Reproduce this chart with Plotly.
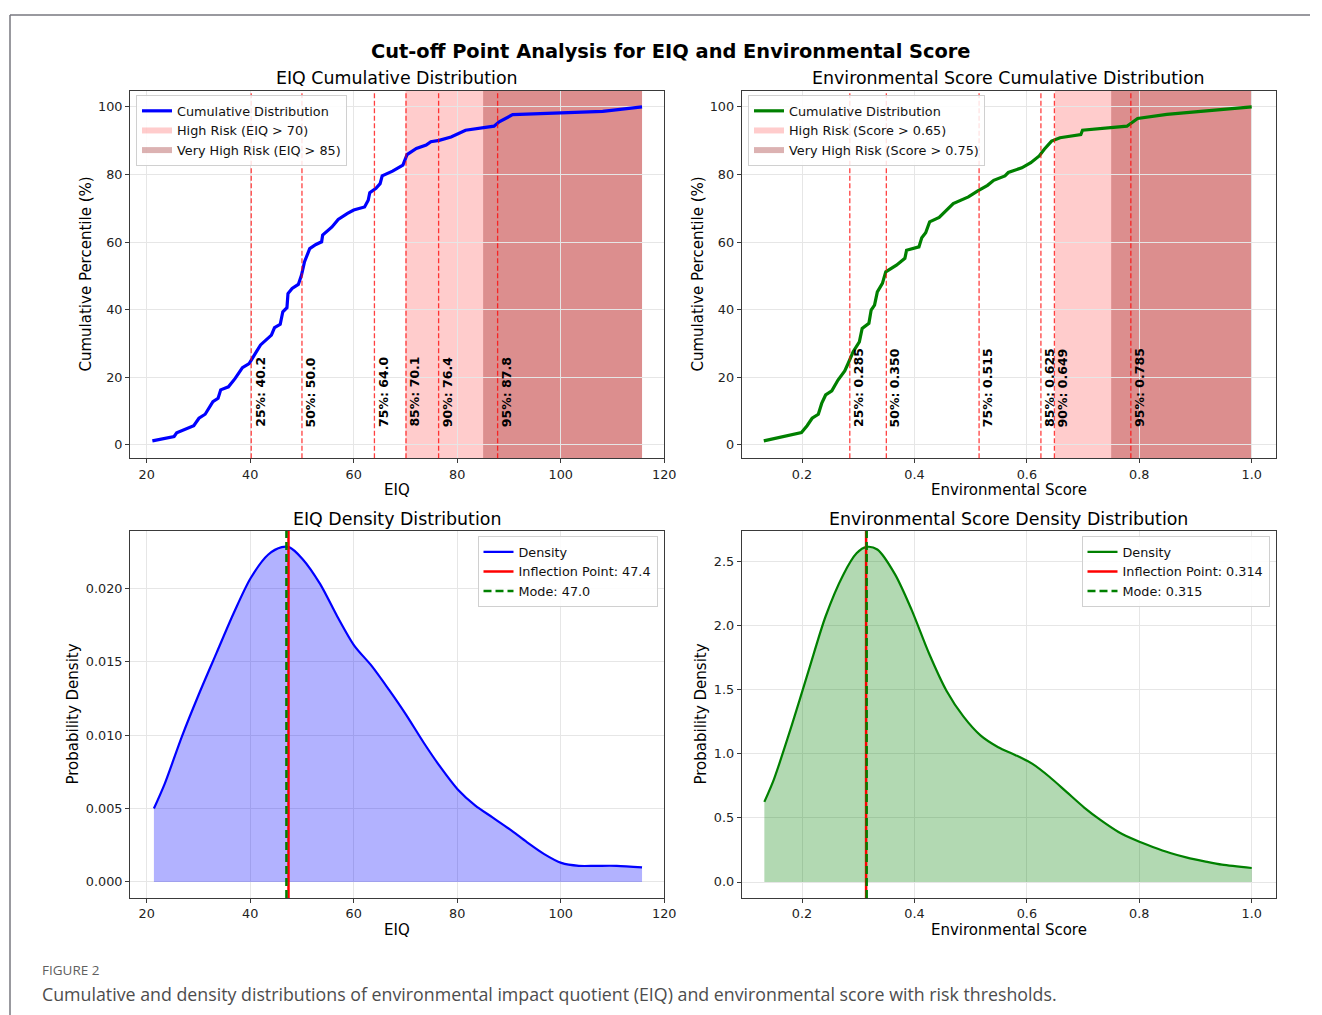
import plotly.graph_objects as go

W, H = 1322, 1015
W_EFF = 1310  # effective horizontal extent observed in the rendered page

# ---------------- data ----------------
eiq_cdf_x = [21.1, 25.3, 25.8, 29.1, 30.1, 31.3, 32.8, 33.8, 34.3, 35.8, 37.1, 38.5, 39.8, 40.8,
             42.0, 44.1, 44.7, 45.8, 46.3, 47.1, 47.3, 48.1, 49.3, 49.9, 50.5, 51.5, 52.7, 53.8,
             54.0, 55.8, 57.0, 58.8, 60.0, 62.1, 62.8, 63.1, 64.3, 65.1, 65.5, 67.5, 69.5, 70.3,
             72.1, 74.0, 74.9, 76.5, 78.8, 81.6, 87.1, 88.1, 90.7, 108.1, 115.7]
eiq_cdf_y = [1.2, 2.5, 3.6, 5.7, 7.9, 9.1, 12.8, 13.8, 16.3, 17.2, 19.7, 22.9, 24.1, 26.6,
             29.6, 32.5, 34.7, 35.7, 39.4, 40.6, 44.8, 46.3, 47.5, 50.2, 54.2, 58.1, 59.3, 60.1,
             62.1, 64.5, 66.7, 68.5, 69.5, 70.4, 72.4, 74.6, 75.9, 77.3, 79.6, 81.0, 82.8, 85.9,
             87.7, 88.7, 89.7, 90.1, 91.1, 93.1, 94.3, 95.6, 97.7, 98.7, 100.0]

score_cdf_x = [0.132, 0.199, 0.209, 0.218, 0.229, 0.235, 0.242, 0.253, 0.264, 0.276, 0.282,
               0.291, 0.302, 0.307, 0.319, 0.323, 0.329, 0.334, 0.343, 0.349, 0.368, 0.383,
               0.386, 0.408, 0.413, 0.420, 0.427, 0.444, 0.469, 0.496, 0.512, 0.530, 0.541,
               0.561, 0.567, 0.591, 0.607, 0.622, 0.631, 0.644, 0.659, 0.696, 0.699, 0.778,
               0.797, 0.849, 1.000]
score_cdf_y = [1.2, 3.7, 5.7, 7.9, 9.1, 12.3, 14.8, 16.0, 19.2, 21.9, 24.1,
               27.6, 30.5, 34.5, 36.0, 39.9, 41.4, 45.3, 47.8, 51.2, 53.2, 55.2,
               57.6, 58.6, 61.3, 62.8, 66.0, 67.3, 71.4, 73.4, 75.1, 76.8, 78.3,
               79.6, 80.6, 82.0, 83.5, 85.5, 87.5, 89.9, 90.9, 91.8, 93.1, 94.3,
               96.6, 97.8, 100.0]

eiq_dens_x = [21.4, 23.5, 26.8, 30.1, 33.5, 36.8, 40.1, 43.5, 46.1, 47.5, 50.1, 53.5, 56.8,
              60.1, 63.5, 66.8, 70.1, 73.5, 76.8, 80.1, 83.5, 86.8, 90.1, 93.5, 96.8, 100.1,
              103.5, 106.8, 110.8, 115.7]
eiq_dens_y = [0.0050, 0.0067, 0.0099, 0.0128, 0.0156, 0.0183, 0.0207, 0.0223, 0.0228, 0.0228,
              0.0220, 0.0203, 0.0181, 0.0161, 0.0147, 0.0131, 0.0114, 0.0095, 0.0078, 0.0063,
              0.0052, 0.0044, 0.0036, 0.0027, 0.0019, 0.0013, 0.0011, 0.0011, 0.0011, 0.0010]

score_dens_x = [0.133, 0.150, 0.181, 0.212, 0.242, 0.273, 0.297, 0.315, 0.334, 0.365, 0.395,
                0.426, 0.457, 0.487, 0.518, 0.549, 0.579, 0.610, 0.640, 0.671, 0.702, 0.732,
                0.763, 0.794, 0.824, 0.855, 0.885, 0.916, 0.947, 1.000]
score_dens_y = [0.624, 0.80, 1.21, 1.65, 2.07, 2.39, 2.56, 2.61, 2.59, 2.40, 2.12,
                1.78, 1.49, 1.29, 1.14, 1.05, 0.99, 0.92, 0.82, 0.70, 0.58, 0.48,
                0.39, 0.325, 0.273, 0.226, 0.190, 0.161, 0.135, 0.109]

pct_levels = [25, 50, 75, 85, 90, 95]
eiq_pct_values = [40.2, 50.0, 64.0, 70.1, 76.4, 87.8]
score_pct_values = [0.285, 0.350, 0.515, 0.625, 0.649, 0.785]

eiq_thresholds = [70, 85]
score_thresholds = [0.65, 0.75]

eiq_inflection, eiq_mode = 47.4, 47.0
score_inflection, score_mode = 0.314, 0.315

eiq_ticks = [20, 40, 60, 80, 100, 120]
score_ticks = [0.2, 0.4, 0.6, 0.8, 1.0]
cdf_ticks = [0, 20, 40, 60, 80, 100]
eiq_dens_ticks = [0.000, 0.005, 0.010, 0.015, 0.020]
score_dens_ticks = [0.0, 0.5, 1.0, 1.5, 2.0, 2.5]

# ---------------- styling helpers ----------------
FONT = "DejaVu Sans"


def px(x):
    return x / W_EFF


def py(y):
    return 1 - y / H


dom_L = [px(130), px(664.3)]
dom_R = [px(741.7), px(1276)]
dom_T = [py(458.3), py(90.7)]
dom_B = [py(898), py(531)]

axis_common = dict(
    showgrid=True, gridcolor="#e6e6e6", gridwidth=1, zeroline=False,
    showline=True, linecolor="#3a3a3a", linewidth=1, mirror=True,
    ticks="outside", ticklen=4, tickwidth=1, tickcolor="#3a3a3a",
    tickfont=dict(family=FONT, size=12.8, color="#222222"),
)

HIGH_FILL = "rgba(255,0,0,0.2)"
VHIGH_FILL = "rgba(139,0,0,0.3)"
PCT_LINE = "rgba(255,0,0,0.75)"

fig = go.Figure()

# ---------- top-left: EIQ cumulative ----------
fig.add_trace(go.Scatter(x=eiq_cdf_x, y=eiq_cdf_y, mode="lines", name="Cumulative Distribution",
                         line=dict(color="blue", width=3.2), xaxis="x", yaxis="y", legend="legend"))
fig.add_trace(go.Scatter(x=[None], y=[None], mode="none", fill="toself", fillcolor=HIGH_FILL,
                         name=f"High Risk (EIQ > {eiq_thresholds[0]})", xaxis="x", yaxis="y", legend="legend"))
fig.add_trace(go.Scatter(x=[None], y=[None], mode="none", fill="toself", fillcolor=VHIGH_FILL,
                         name=f"Very High Risk (EIQ > {eiq_thresholds[1]})", xaxis="x", yaxis="y", legend="legend"))

# ---------- top-right: Score cumulative ----------
fig.add_trace(go.Scatter(x=score_cdf_x, y=score_cdf_y, mode="lines", name="Cumulative Distribution",
                         line=dict(color="green", width=3.2), xaxis="x2", yaxis="y2", legend="legend2"))
fig.add_trace(go.Scatter(x=[None], y=[None], mode="none", fill="toself", fillcolor=HIGH_FILL,
                         name=f"High Risk (Score > {score_thresholds[0]})", xaxis="x2", yaxis="y2", legend="legend2"))
fig.add_trace(go.Scatter(x=[None], y=[None], mode="none", fill="toself", fillcolor=VHIGH_FILL,
                         name=f"Very High Risk (Score > {score_thresholds[1]})", xaxis="x2", yaxis="y2", legend="legend2"))

# ---------- bottom-left: EIQ density ----------
fig.add_trace(go.Scatter(x=eiq_dens_x, y=eiq_dens_y, mode="none", showlegend=False,
                         line=dict(shape="spline", smoothing=0.8),
                         fill="tozeroy", fillcolor="rgba(0,0,255,0.3)", xaxis="x3", yaxis="y3"))
fig.add_trace(go.Scatter(x=eiq_dens_x, y=eiq_dens_y, mode="lines", name="Density",
                         line=dict(color="blue", width=2.2, shape="spline", smoothing=0.8),
                         xaxis="x3", yaxis="y3", legend="legend3"))
fig.add_trace(go.Scatter(x=[None], y=[None], mode="lines", name=f"Inflection Point: {eiq_inflection:.1f}",
                         line=dict(color="red", width=2.5), xaxis="x3", yaxis="y3", legend="legend3"))
fig.add_trace(go.Scatter(x=[None], y=[None], mode="lines", name=f"Mode: {eiq_mode:.1f}",
                         line=dict(color="green", width=2.5, dash="8px,4px"), xaxis="x3", yaxis="y3", legend="legend3"))

# ---------- bottom-right: Score density ----------
fig.add_trace(go.Scatter(x=score_dens_x, y=score_dens_y, mode="none", showlegend=False,
                         line=dict(shape="spline", smoothing=0.8),
                         fill="tozeroy", fillcolor="rgba(0,128,0,0.3)", xaxis="x4", yaxis="y4"))
fig.add_trace(go.Scatter(x=score_dens_x, y=score_dens_y, mode="lines", name="Density",
                         line=dict(color="green", width=2.2, shape="spline", smoothing=0.8),
                         xaxis="x4", yaxis="y4", legend="legend4"))
fig.add_trace(go.Scatter(x=[None], y=[None], mode="lines", name=f"Inflection Point: {score_inflection:.3f}",
                         line=dict(color="red", width=2.5), xaxis="x4", yaxis="y4", legend="legend4"))
fig.add_trace(go.Scatter(x=[None], y=[None], mode="lines", name=f"Mode: {score_mode:.3f}",
                         line=dict(color="green", width=2.5, dash="8px,4px"), xaxis="x4", yaxis="y4", legend="legend4"))

shapes = []
annotations = []

# risk spans
for xr, yr, thr, xmax in [("x", "y domain", eiq_thresholds, max(eiq_cdf_x)),
                          ("x2", "y2 domain", score_thresholds, max(score_cdf_x))]:
    shapes.append(dict(type="rect", xref=xr, yref=yr, x0=thr[0], x1=xmax, y0=0, y1=1,
                       fillcolor=HIGH_FILL, line=dict(width=0), layer="below"))
    shapes.append(dict(type="rect", xref=xr, yref=yr, x0=thr[1], x1=xmax, y0=0, y1=1,
                       fillcolor=VHIGH_FILL, line=dict(width=0), layer="below"))

# percentile lines and labels
for xr, yr, vals, fmt in [("x", "y", eiq_pct_values, "{:.1f}"), ("x2", "y2", score_pct_values, "{:.3f}")]:
    for p, v in zip(pct_levels, vals):
        shapes.append(dict(type="line", xref=xr, yref=yr + " domain", x0=v, x1=v, y0=0, y1=1,
                           line=dict(color=PCT_LINE, width=1.3, dash="5px,2.5px"), layer="above"))
        annotations.append(dict(x=v, y=5, xref=xr, yref=yr, text=f"{p}%: " + fmt.format(v),
                                textangle=-90, xanchor="left", yanchor="bottom", showarrow=False,
                                font=dict(family=FONT, size=12.5, color="black", weight="bold"),
                                borderpad=0))

# inflection / mode lines
for xr, yr, infl, mode in [("x3", "y3 domain", eiq_inflection, eiq_mode),
                           ("x4", "y4 domain", score_inflection, score_mode)]:
    shapes.append(dict(type="line", xref=xr, yref=yr, x0=infl, x1=infl, y0=0, y1=1,
                       line=dict(color="red", width=2.5), layer="above"))
    shapes.append(dict(type="line", xref=xr, yref=yr, x0=mode, x1=mode, y0=0, y1=1,
                       line=dict(color="green", width=2.5, dash="8px,4px"), layer="above"))

# page frame (journal figure border)
shapes.append(dict(type="line", xref="paper", yref="paper", x0=px(10), x1=1, y0=py(15), y1=py(15),
                   line=dict(color="#77777f", width=1.5)))
shapes.append(dict(type="line", xref="paper", yref="paper", x0=px(10), x1=px(10), y0=py(15), y1=0,
                   line=dict(color="#77777f", width=1.5)))


def text_ann(text, x, y, size, bold=False, angle=0, family=FONT, color="black", xanchor="center"):
    return dict(text=text, x=px(x), y=py(y), xref="paper", yref="paper", showarrow=False,
                xanchor=xanchor, yanchor="middle", textangle=angle,
                font=dict(family=family, size=size, color=color, weight="bold" if bold else "normal"))


annotations += [
    text_ann("Cut-off Point Analysis for EIQ and Environmental Score", 671, 51, 19.4, bold=True),
    text_ann("EIQ Cumulative Distribution", 397, 78, 17.4),
    text_ann("Environmental Score Cumulative Distribution", 1008.5, 78, 17.4),
    text_ann("EIQ Density Distribution", 397, 519, 17.4),
    text_ann("Environmental Score Density Distribution", 1008.5, 519, 17.4),
    text_ann("EIQ", 397, 490, 15),
    text_ann("Environmental Score", 1008.5, 490, 15),
    text_ann("EIQ", 397, 930, 15),
    text_ann("Environmental Score", 1008.5, 930, 15),
    text_ann("Cumulative Percentile (%)", 85, 274.5, 15, angle=-90),
    text_ann("Cumulative Percentile (%)", 697, 274.5, 15, angle=-90),
    text_ann("Probability Density", 72, 714.5, 15, angle=-90),
    text_ann("Probability Density", 700, 714.5, 15, angle=-90),
    text_ann("FIGURE 2", 40, 970, 13.5, family="Open Sans", color="#5f5f5f", xanchor="left"),
    text_ann("Cumulative and density distributions of environmental impact quotient (EIQ) and "
             "environmental score with risk thresholds.", 40, 994, 17.8, family="Open Sans",
             color="#4d4d4d", xanchor="left"),
]

legend_common = dict(bgcolor="rgba(255,255,255,0.85)", bordercolor="#d0d0d0", borderwidth=1,
                     font=dict(family=FONT, size=12.8, color="#111111"), itemwidth=30,
                     tracegroupgap=0)

fig.update_layout(
    width=W, height=H, autosize=False,
    margin=dict(l=0, r=0, t=0, b=0, pad=0),
    paper_bgcolor="white", plot_bgcolor="white",
    showlegend=True,
    xaxis=dict(axis_common, domain=dom_L, anchor="y", range=[16.78, 120], tickvals=eiq_ticks),
    yaxis=dict(axis_common, domain=dom_T, anchor="x", range=[-3.94, 104.8], tickvals=cdf_ticks),
    xaxis2=dict(axis_common, domain=dom_R, anchor="y2", range=[0.0927, 1.0432], tickvals=score_ticks,
                tickformat=".1f"),
    yaxis2=dict(axis_common, domain=dom_T, anchor="x2", range=[-3.94, 104.8], tickvals=cdf_ticks),
    xaxis3=dict(axis_common, domain=dom_L, anchor="y3", range=[16.78, 120], tickvals=eiq_ticks),
    yaxis3=dict(axis_common, domain=dom_B, anchor="x3", range=[-0.00109, 0.0239], tickvals=eiq_dens_ticks,
                tickformat=".3f"),
    xaxis4=dict(axis_common, domain=dom_R, anchor="y4", range=[0.0927, 1.0432], tickvals=score_ticks,
                tickformat=".1f"),
    yaxis4=dict(axis_common, domain=dom_B, anchor="x4", range=[-0.1246, 2.734], tickvals=score_dens_ticks,
                tickformat=".1f"),
    legend=dict(legend_common, x=px(136), y=py(95), xanchor="left", yanchor="top"),
    legend2=dict(legend_common, x=px(748), y=py(95), xanchor="left", yanchor="top"),
    legend3=dict(legend_common, x=px(657.5), y=py(536), xanchor="right", yanchor="top"),
    legend4=dict(legend_common, x=px(1269.5), y=py(536), xanchor="right", yanchor="top"),
    shapes=shapes,
    annotations=annotations,
)

fig.write_html("out.html", config={"responsive": False})
